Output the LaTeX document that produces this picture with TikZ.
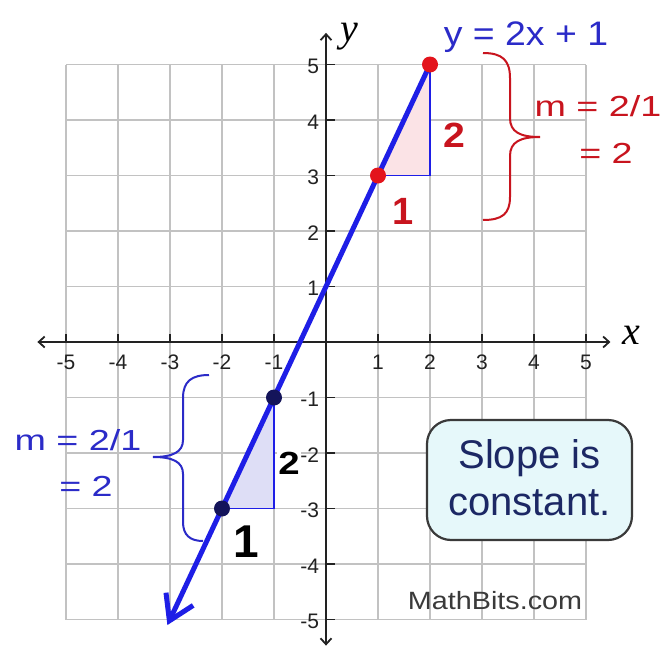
\documentclass[tikz,border=0pt]{standalone}
\usepackage{fontspec}
\usepackage{graphicx}
\newfontfamily\sansf{Liberation Sans}
\newfontfamily\seriff{Liberation Serif}
\usetikzlibrary{arrows.meta}
\definecolor{lineblue}{HTML}{1E1EE6}
\definecolor{txtblue}{HTML}{2B2BC8}
\definecolor{redd}{HTML}{C8141E}
\definecolor{dotred}{HTML}{E3141C}
\definecolor{navy}{HTML}{14145A}
\definecolor{pinkfill}{HTML}{FBE3E6}
\definecolor{lavfill}{HTML}{DEDEF6}
\definecolor{boxfill}{HTML}{E6F8FA}
\definecolor{boxtext}{HTML}{1C2864}
\definecolor{gridgray}{HTML}{C2C2C2}
\definecolor{axisgray}{HTML}{222222}
\definecolor{markgray}{HTML}{3A3A3A}
\begin{document}
\begin{tikzpicture}[x=1pt,y=-1pt,
  gridline/.style={gridgray, line width=1.6pt},
  axisline/.style={axisgray, line width=1.8pt, {Straight Barb[length=6pt,width=11pt]}-{Straight Barb[length=6pt,width=11pt]}},
  tickmark/.style={axisgray, line width=1.6pt},
  ticklab/.style={font=\sansf\fontsize{21}{21}\selectfont, text=axisgray, inner sep=0pt},
  reddot/.style={circle, fill=dotred, minimum size=16pt, inner sep=0pt},
  navydot/.style={circle, fill=navy, minimum size=16pt, inner sep=0pt},
  triedge/.style={lineblue, line width=1.6pt},
  bigred/.style={font=\sansf\bfseries\fontsize{35}{35}\selectfont, text=redd, inner sep=0pt},
  bigblack/.style={font=\sansf\bfseries\fontsize{35}{35}\selectfont, text=black, inner sep=0pt},
  bracepath/.style={line width=2pt},
  axislab/.style={font=\seriff\itshape\fontsize{40}{40}\selectfont, inner sep=0pt}
]
\useasboundingbox (0,0) rectangle (665,648);
\fill[white] (0,0) rectangle (665,648);
\begin{scope}[shift={(326,342)}, x=52pt, y=55.5pt]
  % grid
  \foreach \i in {-5,...,5} {
    \draw[gridline] (\i,-5) -- (\i,5);
    \draw[gridline] (-5,\i) -- (5,\i);
  }
  % axes
  \coordinate (xl) at (-5.55,0);
  \coordinate (xr) at (5.47,0);
  \coordinate (yb) at (0,-5.47);
  \coordinate (yt) at (0,5.57);
  \draw[axisline] (xl) -- (xr);
  \draw[axisline] (yb) -- (yt);
  \foreach \i in {-5,...,-1,1,2,...,5} {
    \draw[tickmark] (\i,0) -- (\i,0.15);
    \draw[tickmark] (0,\i) -- (0.17,\i);
    \node[ticklab] (tx\i) at (\i,-0.36) {\i};
    \node[ticklab, anchor=east] (ty\i) at (-0.13,\i-0.04) {\i};
  }
  % triangles
  \fill[pinkfill] (1,3) -- (2,3) -- (2,5) -- cycle;
  \draw[triedge] (1,3) -- (2,3) -- (2,5);
  \fill[lavfill] (-2,-3) -- (-1,-3) -- (-1,-1) -- cycle;
  \draw[triedge] (-2,-3) -- (-1,-3) -- (-1,-1);
  % line
  \coordinate (top) at (2,5);
  \coordinate (tip) at (-3.05,-5.1);
  \draw[lineblue, line width=5pt, -{Straight Barb[length=24pt,width=30pt]}] (top) -- (tip);
  % dots
  \node[reddot] (pa) at (2,5) {};
  \node[reddot] (pb) at (1,3) {};
  \node[navydot] (pc) at (-1,-1) {};
  \node[navydot] (pd) at (-2,-3) {};
\end{scope}
% axis labels
\node[axislab] (ylab) at (349,37) {y};
\node[axislab] (xlab) at (631,335) {x};
% equation
\node[font=\sansf\fontsize{34}{34}\selectfont, text=txtblue, inner sep=0pt] (eq) at (526,37) {\scalebox{1.1}[1]{y = 2x + 1}};
% rise/run labels
\node[bigred] (r2) at (454,135) {\scalebox{1.12}[1]{2}};
\node[bigred, font=\sansf\bfseries\fontsize{38}{38}\selectfont] (r1) at (403,211) {1};
\node[bigblack, font=\sansf\bfseries\fontsize{32}{32}\selectfont, fill=white, inner xsep=1pt] (b2) at (289,463) {\scalebox{1.2}[1]{2}};
\node[bigblack, font=\sansf\bfseries\fontsize{46}{46}\selectfont] (b1) at (246,542) {1};
% red brace
\coordinate (rbt) at (483,53);
\coordinate (rbm) at (540,137);
\coordinate (rbb) at (483,220);
\draw[redd, bracepath] (rbt) .. controls (502,53) and (510,60) .. (510,78) -- (510,118)
   .. controls (510,132) and (520,137) .. (rbm)
   .. controls (520,137) and (510,142) .. (510,156) -- (510,197)
   .. controls (510,214) and (502,220) .. (rbb);
\node[font=\sansf\fontsize{29}{29}\selectfont, text=redd, inner sep=0pt] (rm) at (598,106) {\scalebox{1.3}[1]{m = 2/1}};
\node[font=\sansf\fontsize{29}{29}\selectfont, text=redd, inner sep=0pt] (re) at (606,153) {\scalebox{1.3}[1]{= 2}};
% blue brace
\coordinate (bbt) at (209,375);
\coordinate (bbm) at (153,457);
\coordinate (bbb) at (203,541);
\draw[txtblue, bracepath] (bbt) .. controls (192,375) and (183,381) .. (183,398) -- (183,440)
   .. controls (183,452) and (173,457) .. (bbm)
   .. controls (173,457) and (183,462) .. (183,474) -- (183,522)
   .. controls (183,535) and (190,541) .. (bbb);
\node[font=\sansf\fontsize{29}{29}\selectfont, text=txtblue, inner sep=0pt] (bm) at (78,440) {\scalebox{1.3}[1]{m = 2/1}};
\node[font=\sansf\fontsize{29}{29}\selectfont, text=txtblue, inner sep=0pt] (be) at (86,486) {\scalebox{1.3}[1]{= 2}};
% slope box
\node[draw=markgray, line width=2.2pt, fill=boxfill, rounded corners=24pt,
      minimum width=205pt, minimum height=120pt, inner sep=0pt] (box) at (529.5,480) {};
\node[font=\sansf\fontsize{40}{47}\selectfont, text=boxtext, align=center, inner sep=0pt] (boxt) at (529.5,478) {Slope is\\constant.};
% credit
\node[font=\sansf\fontsize{25}{25}\selectfont, text=markgray, inner sep=0pt] (credit) at (495,601) {\scalebox{1.15}[1]{MathBits.com}};
\end{tikzpicture}
\end{document}
